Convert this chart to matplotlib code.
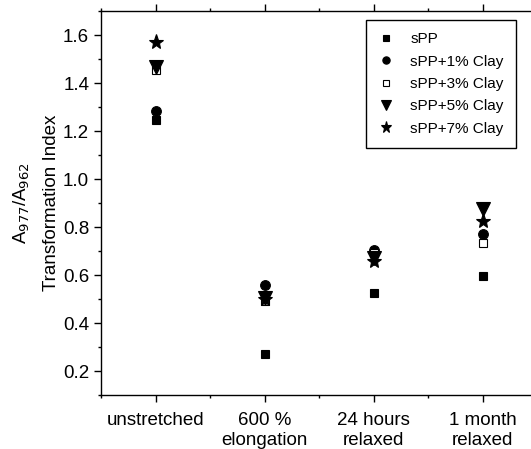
import matplotlib.pyplot as plt
from matplotlib.ticker import MultipleLocator

plt.rcParams["font.family"] = ["Liberation Sans", "DejaVu Sans"]

stages = ["unstretched", "600 %\nelongation", "24 hours\nrelaxed", "1 month\nrelaxed"]

series_names = ["sPP", "sPP+1% Clay", "sPP+3% Clay", "sPP+5% Clay", "sPP+7% Clay"]
spp = [1.244, 0.272, 0.524, 0.594]
spp_1 = [1.283, 0.559, 0.703, 0.770]
spp_3 = [1.453, 0.490, 0.692, 0.733]
spp_5 = [1.467, 0.505, 0.672, 0.875]
spp_7 = [1.572, 0.500, 0.660, 0.824]

series_values = [spp, spp_1, spp_3, spp_5, spp_7]
styles = [
    dict(marker="s", ms=6, mfc="black"),
    dict(marker="o", ms=7, mfc="black"),
    dict(marker="s", ms=6, mfc="white"),
    dict(marker="v", ms=10, mfc="black"),
    dict(marker="*", ms=11, mfc="black"),
]

fig = plt.figure(figsize=(5.31, 4.49), dpi=100)
# axes run past the right edge of the figure, like the original
ax = fig.add_axes([101 / 531, 54 / 449, 436 / 531, 384 / 449])

x = list(range(1, len(stages) + 1))
for name, values, style in zip(series_names, series_values, styles):
    ax.plot(
        x,
        values,
        linestyle="none",
        color="black",
        mec="black",
        mew=0.8,
        label=name,
        **style,
    )

ax.set_xlim(0.5, 4.5)
ax.set_ylim(0.1, 1.7)
ax.set_xticks(x)
ax.set_xticklabels(stages, fontsize=13.5, linespacing=1.25)
ax.xaxis.set_minor_locator(MultipleLocator(0.5))
ax.yaxis.set_minor_locator(MultipleLocator(0.1))
ax.set_yticks([0.2, 0.4, 0.6, 0.8, 1.0, 1.2, 1.4, 1.6])
ax.tick_params(axis="y", labelsize=13.5)

ax.tick_params(which="major", direction="out", length=5, width=1.0)
ax.tick_params(which="minor", direction="out", length=2.5, width=1.0)
ax.tick_params(axis="x", which="both", top=True)
ax.tick_params(axis="x", which="major", pad=7)

for side in ["left", "bottom", "top", "right"]:
    ax.spines[side].set_linewidth(1.0)

ax.set_ylabel(
    "A$_{977}$/A$_{962}$\nTransformation Index",
    fontsize=13.5,
    linespacing=1.85,
    labelpad=2,
)

ax.legend(
    loc="upper right",
    bbox_to_anchor=(516 / 531, 1 - 20 / 449),
    bbox_transform=fig.transFigure,
    fontsize=11,
    frameon=True,
    fancybox=False,
    edgecolor="black",
    framealpha=1,
    markerscale=0.75,
    handlelength=1.0,
    handletextpad=1.1,
    borderpad=0.8,
    labelspacing=0.55,
    borderaxespad=0,
)
ax.get_legend().get_frame().set_linewidth(1.0)

fig.savefig("out.png", dpi=100)
